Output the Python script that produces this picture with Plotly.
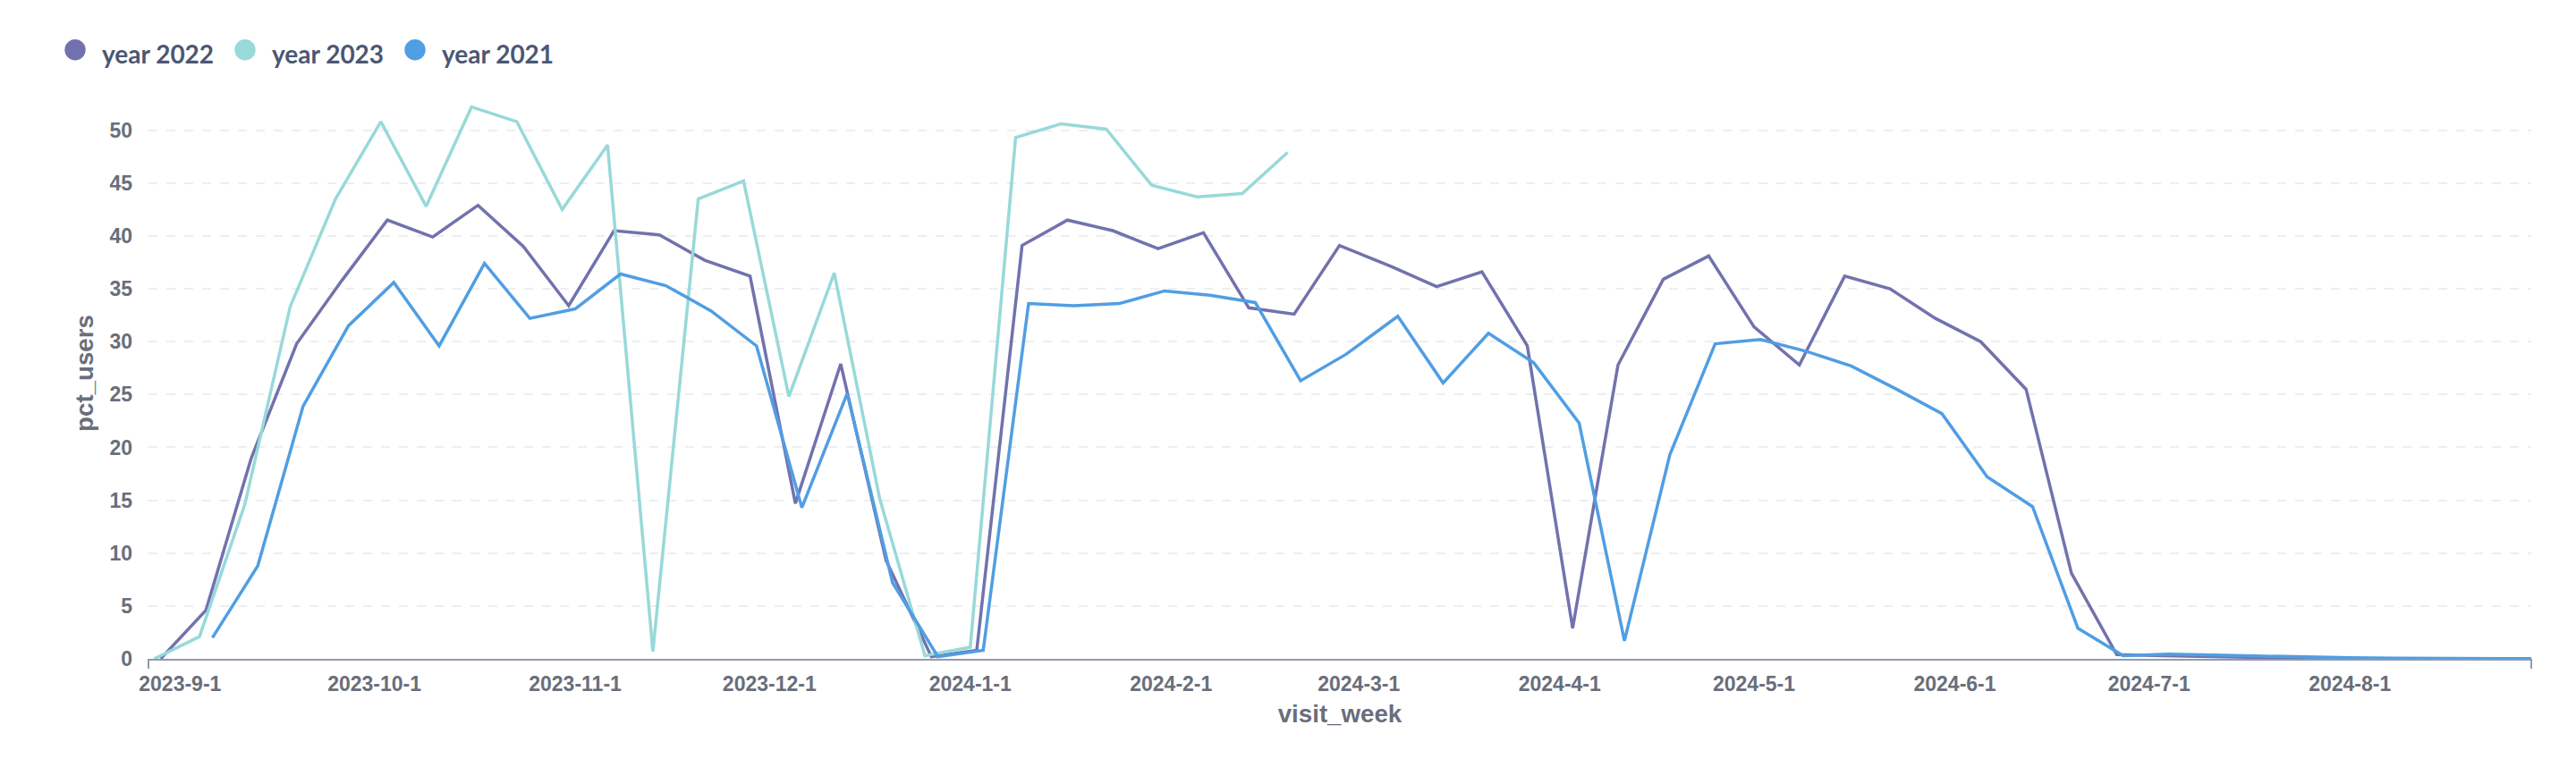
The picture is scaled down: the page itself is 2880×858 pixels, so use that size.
import pandas as pd
import plotly.graph_objects as go

# ---------------- data ----------------
series_names = ["year 2022", "year 2023", "year 2021"]
series_colors = ["#7172AD", "#98D9D9", "#509EE3"]

# weekly starts (Mondays) of each original season; shown shifted onto the 2023/24 calendar
start_2022 = "2022-08-29"
start_2023 = "2023-08-28"
start_2021 = "2021-09-06"
shift_years = {"year 2022": 1, "year 2023": 0, "year 2021": 2}

pct_2022 = [0.0, 4.6, 19.0, 29.8, 35.8, 41.5, 39.9, 42.9, 39.0, 33.4,
            40.5, 40.1, 37.7, 36.2, 14.7, 27.9, 9.3, 0.2, 0.8, 39.1,
            41.5, 40.5, 38.8, 40.3, 33.2, 32.6, 39.1, 37.1, 35.2, 36.6,
            29.6, 2.9, 27.8, 35.9, 38.1, 31.4, 27.8, 36.2, 35.0, 32.2,
            30.0, 25.5, 8.1, 0.4, 0.3, 0.2, 0.12, 0.06, 0.03, 0.02,
            0.01, 0.01, 0.0]
pct_2023 = [0.0, 2.1, 14.6, 33.3, 43.5, 50.8, 42.8, 52.2, 50.8, 42.5,
            48.6, 0.7, 43.5, 45.2, 24.8, 36.5, 15.2, 0.3, 1.1, 49.3,
            50.6, 50.1, 44.8, 43.7, 44.0, 47.9]
pct_2021 = [2.0, 8.8, 23.9, 31.5, 35.6, 29.6, 37.4, 32.2, 33.1, 36.4,
            35.3, 32.9, 29.6, 14.3, 25.1, 7.2, 0.2, 0.8, 33.6, 33.4,
            33.6, 34.8, 34.4, 33.7, 26.3, 28.8, 32.4, 26.1, 30.8, 28.0,
            22.3, 1.7, 19.3, 29.8, 30.2, 29.1, 27.7, 25.5, 23.2, 17.2,
            14.4, 2.9, 0.3, 0.45, 0.35, 0.25, 0.15, 0.1, 0.06, 0.04,
            0.02, 0.02]

x_tick_dates = ["2023-09-01", "2023-10-01", "2023-11-01", "2023-12-01",
                "2024-01-01", "2024-02-01", "2024-03-01", "2024-04-01",
                "2024-05-01", "2024-06-01", "2024-07-01", "2024-08-01"]
x_tick_text = ["2023-9-1", "2023-10-1", "2023-11-1", "2023-12-1",
               "2024-1-1", "2024-2-1", "2024-3-1", "2024-4-1",
               "2024-5-1", "2024-6-1", "2024-7-1", "2024-8-1"]
y_ticks = [0, 5, 10, 15, 20, 25, 30, 35, 40, 45, 50]

x_range = ["2023-08-27 03:00", "2024-08-29 00:00"]
y_range = [0, 54.03]

series_values = {"year 2022": (start_2022, pct_2022),
                 "year 2023": (start_2023, pct_2023),
                 "year 2021": (start_2021, pct_2021)}

# ---------------- layout geometry (px) ----------------
W, H = 2880, 858
PL, PR, PT, PB = 158, 2822, 90, 729
PW, PH = PR - PL, PB - PT

def px_x(px):
    return (px - PL) / PW

def px_y(py):
    return (PB - py) / PH

TICK_COLOR = "#696E7B"
LEGEND_TEXT = "#4C5773"
AXIS_FONT = "Liberation Sans"

fig = go.Figure()
for name, color in zip(series_names, series_colors):
    start, vals = series_values[name]
    dates = pd.date_range(start, periods=len(vals), freq="7D") + pd.DateOffset(years=shift_years[name])
    fig.add_trace(go.Scatter(
        x=dates, y=vals, name=name, mode="lines",
        line=dict(color=color, width=3.5),
        showlegend=False,
    ))

# custom legend (large filled circles + bold text)
shapes = []
annotations = []
for i, (name, color) in enumerate(zip(series_names, series_colors)):
    cx = 76 + 190 * i
    cy = 47.7
    r = 11.7
    shapes.append(dict(type="circle", xref="paper", yref="paper",
                       x0=px_x(cx - r), x1=px_x(cx + r),
                       y0=px_y(cy + r), y1=px_y(cy - r),
                       fillcolor=color, line=dict(width=0)))
    annotations.append(dict(text=name, xref="paper", yref="paper",
                            x=px_x(cx + 28), y=px_y(52), xanchor="left", yanchor="middle",
                            showarrow=False,
                            font=dict(family="Lato", size=28, color=LEGEND_TEXT, weight="bold")))

# small end ticks on the x axis
for xd in (0, 1):
    shapes.append(dict(type="line", xref="x domain", yref="paper",
                       x0=xd, x1=xd, y0=0, y1=-11 / PH,
                       line=dict(color="#949AAB", width=2)))

fig.update_layout(
    width=W, height=H,
    margin=dict(l=PL, r=W - PR, t=PT, b=H - PB, autoexpand=False),
    paper_bgcolor="white", plot_bgcolor="white",
    showlegend=False,
    shapes=shapes,
    annotations=annotations,
    font=dict(family=AXIS_FONT, color=TICK_COLOR),
)

fig.update_xaxes(
    type="date", range=x_range,
    tickvals=x_tick_dates, ticktext=x_tick_text,
    tickfont=dict(family=AXIS_FONT, size=23, color=TICK_COLOR, weight="bold"),
    ticks="", showgrid=False, zeroline=False,
    showline=True, linecolor="#949AAB", linewidth=2,
    ticklabelstandoff=6,
    title=dict(text="visit_week", standoff=12,
               font=dict(family=AXIS_FONT, size=27.7, color=TICK_COLOR, weight="bold")),
    automargin=False,
)
fig.update_yaxes(
    range=y_range, tickvals=y_ticks,
    tickfont=dict(family=AXIS_FONT, size=23, color=TICK_COLOR, weight="bold"),
    ticks="", showline=False, zeroline=False,
    showgrid=True, gridcolor="#EDEEF0", gridwidth=2, griddash="10px,10px",
    ticklabelstandoff=17,
    title=dict(text="pct_users", standoff=9,
               font=dict(family=AXIS_FONT, size=27.7, color=TICK_COLOR, weight="bold")),
    automargin=False,
)

fig.write_html("out.html")
